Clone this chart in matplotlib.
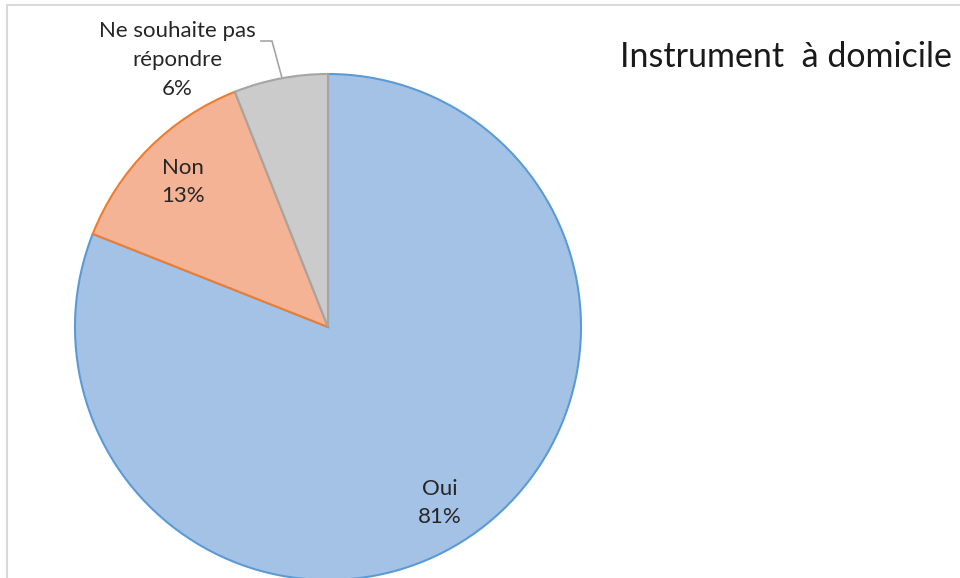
import matplotlib
matplotlib.use("Agg")
import matplotlib.pyplot as plt
from matplotlib.patches import Rectangle

plt.rcParams['font.family'] = ['Lato', 'DejaVu Sans']

# données
labels = ['Oui', 'Non', 'Ne souhaite pas\nrépondre']
values = [81, 13, 6]
fills = ['#a4c2e6', '#f5b396', '#cbcbcb']
edges = ['#5b9bd5', '#ed7d31', '#a5a5a5']
title = 'Instrument  à domicile'

fig = plt.figure(figsize=(9.6, 5.78), dpi=100)
ax = fig.add_axes([0, 0, 1, 1])

# cadre du graphique
ax.add_patch(Rectangle((7, -10), 1000, 583, fill=False, edgecolor='#d9d9d9', linewidth=1.5))

wedges, _ = ax.pie(values, colors=fills, startangle=90, counterclock=False,
                   center=(328, 251), radius=253, frame=True)
for w, ec in zip(wedges, edges):
    w.set_edgecolor(ec)
    w.set_linewidth(1.5)
ax.set_xlim(0, 960)
ax.set_ylim(0, 578)
ax.set_aspect('equal')
ax.axis('off')

lab_kw = dict(ha='center', va='center', fontsize=16, color='#262626', linespacing=1.55)
ax.text(440, 578 - 503, 'Oui\n81%', **lab_kw)
ax.text(183, 578 - 182, 'Non\n13%', **lab_kw)
ax.text(177, 578 - 60, 'Ne souhaite pas\nrépondre\n6%', **lab_kw)

# ligne de rappel
ax.plot([261, 272, 282], [578 - 41, 578 - 41, 578 - 78], color='#a5a5a5', linewidth=1.2)

ax.text(620, 578 - 57, title, ha='left', va='center', fontsize=24.5, color='#1a1a1a')

plt.savefig('out.png', dpi=100)
